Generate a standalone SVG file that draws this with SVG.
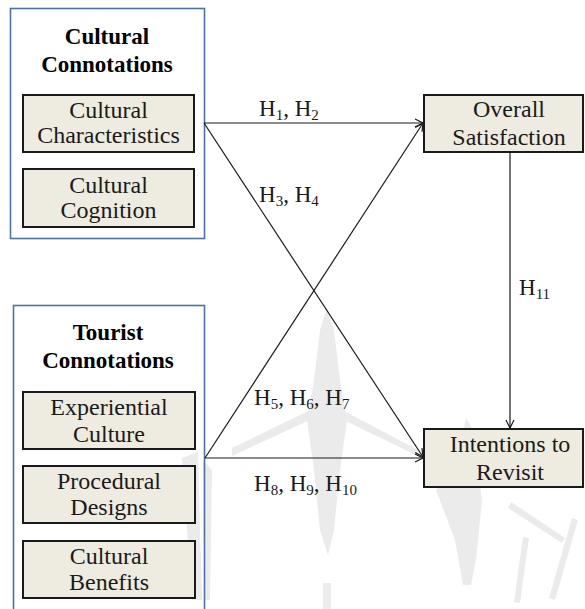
<svg xmlns="http://www.w3.org/2000/svg" width="585" height="609" viewBox="0 0 585 609">
<style>
text{font-family:"Liberation Serif","Tinos","DejaVu Serif",serif}
.t{font-size:24px;fill:#1a1a1a;text-anchor:middle}
.tb{font-size:23px;font-weight:bold;fill:#000;text-anchor:middle}
.lb{font-size:23px;fill:#1a1a1a}
.sub{font-size:15px}
.outer{fill:none;stroke:#4a74a6;stroke-width:1.6}
.inner{fill:#eeebe0;stroke:#1a1a1a;stroke-width:2}
.conn{stroke:#1a1a1a;stroke-width:1.2;fill:none}
.wm{fill:#ebebeb}
</style>
<defs>
<marker id="arr" markerWidth="10" markerHeight="10" refX="9" refY="5" orient="auto" markerUnits="userSpaceOnUse">
<path d="M1,1 L9,5 L1,9" fill="none" stroke="#1a1a1a" stroke-width="1.2"/>
</marker>
</defs>
<rect width="585" height="609" fill="#fff"/>
<g id="watermark">
<polygon class="wm" points="327,308 334,330 340,380 347,420 340,470 334,530 328,555 320,530 314,470 307,420 314,380 320,330"/>
<path class="wm" d="M232,448 L327,402 L418,450 L418,456 L327,412 L232,456 Z"/>
<polygon class="wm" points="203,460 212,470 210,600 204,600"/>
<polygon class="wm" points="182,458 198,452 202,600 192,600"/>
<polygon class="wm" points="466,418 473,430 482,500 476,560 471,585 463,585 455,540 436,490 455,470"/>
<path class="wm" d="M508,508 L562,543 L565,538 L511,502 Z M572,518 L578,520 L555,600 L549,598 Z M523,537 L529,538 L520,603 L514,602 Z"/>
<rect class="wm" x="323" y="583" width="8" height="26"/>
</g>
<g id="cultural-connotations">
<rect class="outer" x="10.5" y="8.5" width="194" height="230"/>
<text class="tb" x="107" y="44">Cultural</text>
<text class="tb" x="107" y="72">Connotations</text>
</g>
<g id="cultural-characteristics">
<rect class="inner" x="23" y="95" width="171" height="57"/>
<text class="t" x="108.5" y="118">Cultural</text>
<text class="t" x="108.5" y="143">Characteristics</text>
</g>
<g id="cultural-cognition">
<rect class="inner" x="23" y="169" width="171" height="58"/>
<text class="t" x="108.5" y="193">Cultural</text>
<text class="t" x="108.5" y="218">Cognition</text>
</g>
<g id="tourist-connotations">
<rect class="outer" x="13.5" y="305.5" width="191" height="320"/>
<text class="tb" x="108" y="340">Tourist</text>
<text class="tb" x="108" y="368">Connotations</text>
</g>
<g id="experiential-culture">
<rect class="inner" x="23" y="392" width="172" height="57"/>
<text class="t" x="109" y="415">Experiential</text>
<text class="t" x="109" y="442">Culture</text>
</g>
<g id="procedural-designs">
<rect class="inner" x="23" y="466" width="172" height="57"/>
<text class="t" x="109" y="489">Procedural</text>
<text class="t" x="109" y="515">Designs</text>
</g>
<g id="cultural-benefits">
<rect class="inner" x="23" y="541" width="172" height="57"/>
<text class="t" x="109" y="564">Cultural</text>
<text class="t" x="109" y="590">Benefits</text>
</g>
<g id="overall-satisfaction">
<rect class="inner" x="424" y="95" width="159" height="57"/>
<text class="t" x="509" y="117">Overall</text>
<text class="t" x="509" y="145">Satisfaction</text>
</g>
<g id="intentions-to-revisit">
<rect class="inner" x="424" y="429" width="159" height="58"/>
<text class="t" x="510" y="452">Intentions to</text>
<text class="t" x="510" y="480">Revisit</text>
</g>
<g id="connectors">
<line class="conn" x1="204" y1="123" x2="423" y2="123" marker-end="url(#arr)"/>
<line class="conn" x1="204" y1="123" x2="423" y2="457" marker-end="url(#arr)"/>
<line class="conn" x1="205" y1="458" x2="423" y2="123" marker-end="url(#arr)"/>
<line class="conn" x1="205" y1="458" x2="423" y2="458" marker-end="url(#arr)"/>
<line class="conn" x1="510" y1="152" x2="510" y2="428" marker-end="url(#arr)"/>
<text class="lb" x="259" y="116">H<tspan class="sub" dy="4">1</tspan><tspan dy="-4">, H</tspan><tspan class="sub" dy="4">2</tspan></text>
<text class="lb" x="259" y="202">H<tspan class="sub" dy="4">3</tspan><tspan dy="-4">, H</tspan><tspan class="sub" dy="4">4</tspan></text>
<text class="lb" x="254" y="405">H<tspan class="sub" dy="4">5</tspan><tspan dy="-4">, H</tspan><tspan class="sub" dy="4">6</tspan><tspan dy="-4">, H</tspan><tspan class="sub" dy="4">7</tspan></text>
<text class="lb" x="254" y="491">H<tspan class="sub" dy="4">8</tspan><tspan dy="-4">, H</tspan><tspan class="sub" dy="4">9</tspan><tspan dy="-4">, H</tspan><tspan class="sub" dy="4">10</tspan></text>
<text class="lb" x="519" y="295">H<tspan class="sub" dy="4">11</tspan></text>
</g>
</svg>
